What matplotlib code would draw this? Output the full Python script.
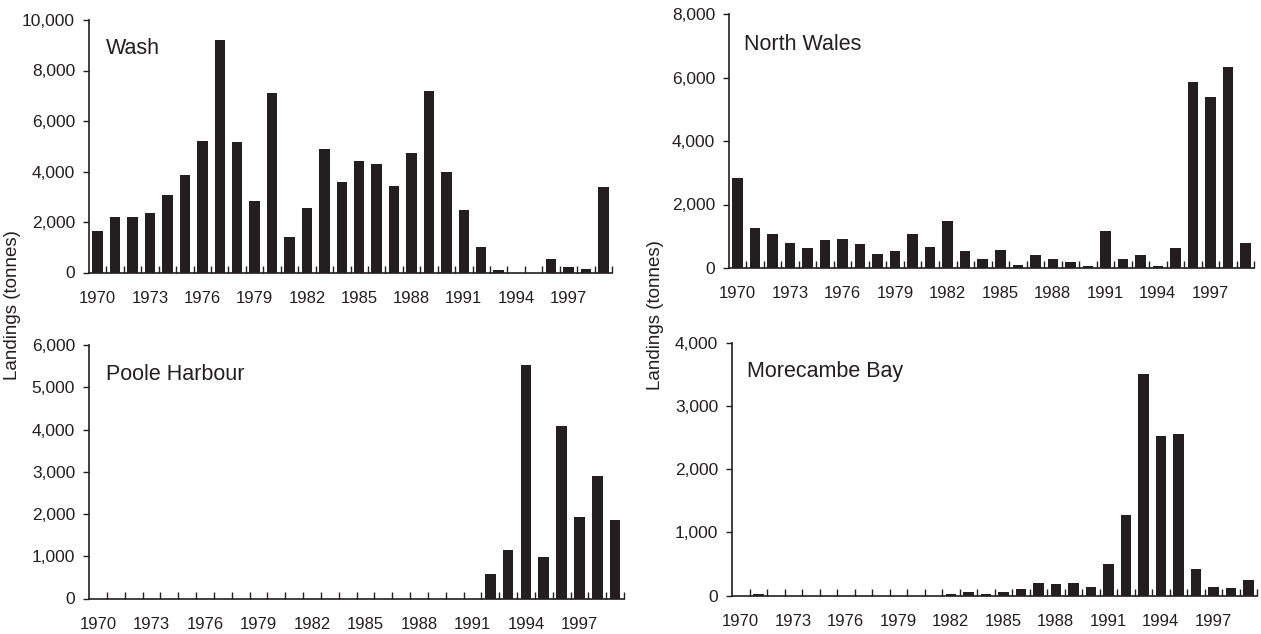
import matplotlib
matplotlib.use("Agg")
import matplotlib.pyplot as plt
from matplotlib.ticker import FuncFormatter, MultipleLocator
import numpy as np

plt.rcParams['font.family'] = ['Liberation Sans', 'DejaVu Sans']

years = list(range(1970, 2000))
tick_years = [1970, 1973, 1976, 1979, 1982, 1985, 1988, 1991, 1994, 1997]

wash = [1650, 2200, 2200, 2350, 3050, 3850, 5200, 9200, 5150, 2850,
        7100, 1400, 2550, 4900, 3600, 4400, 4300, 3430, 4730, 7170,
        3970, 2460, 1000, 80, 0, 0, 525, 200, 150, 3380]
north_wales = [2830, 1260, 1080, 790, 620, 870, 920, 750, 440, 530,
               1080, 660, 1480, 530, 270, 580, 100, 400, 270, 180,
               50, 1180, 270, 400, 50, 620, 5850, 5380, 6330, 790]
poole = [0] * 22 + [590, 1140, 5530, 980, 4090, 1920, 2900, 1855]
morecambe = [0, 30, 0, 0, 0, 0, 0, 0, 0, 0,
             0, 0, 30, 50, 30, 50, 100, 205, 185, 205,
             140, 505, 1270, 3515, 2520, 2565, 420, 140, 120, 250]

W, H = 1261, 634
fig = plt.figure(figsize=(W / 100, H / 100), dpi=100)

def px_axes(left, right, top, bottom):
    return fig.add_axes([left / W, 1 - bottom / H, (right - left) / W, (bottom - top) / H])

panels = [
    ("Wash", wash, (89, 612, 20, 272.5), 10000, 2000, (106, 49)),
    ("North Wales", north_wales, (729, 1254, 14, 268), 8000, 2000, (744, 45)),
    ("Poole Harbour", poole, (89, 624, 345, 598.5), 6000, 1000, (106, 375)),
    ("Morecambe Bay", morecambe, (732, 1257, 343, 595.5), 4000, 1000, (747, 372)),
]

fmt = FuncFormatter(lambda v, p: f"{int(v):,}")
ink = "#231f20"

for title, vals, box, ymax, ystep, tpos in panels:
    ax = px_axes(*box)
    x = np.arange(len(years))
    ax.bar(x, vals, width=0.6, color=ink, edgecolor="none", zorder=2)
    ax.set_xlim(-0.5, len(years) - 0.5)
    ax.set_ylim(0, ymax)
    ax.yaxis.set_major_locator(MultipleLocator(ystep))
    ax.yaxis.set_major_formatter(fmt)
    ax.set_xticks([years.index(y) for y in tick_years])
    ax.set_xticklabels([str(y) for y in tick_years])
    ax.set_xticks(np.arange(len(years)) + 0.5, minor=True)
    ax.tick_params(axis='x', which='major', length=0, pad=13, labelsize=12, colors=ink)
    ax.tick_params(axis='x', which='minor', direction='in', length=5, width=1, color=ink)
    ax.tick_params(axis='y', which='major', direction='out', length=4, width=1, labelsize=12.5,
                   colors=ink, pad=6)
    for s in ('top', 'right'):
        ax.spines[s].set_visible(False)
    for s in ('left', 'bottom'):
        ax.spines[s].set_color(ink)
        ax.spines[s].set_linewidth(1.2)
    fig.text(tpos[0] / W, 1 - tpos[1] / H, title, fontsize=15.5, color=ink,
             va='center', ha='left')

fig.text(13 / W, 1 - 305 / H, "Landings (tonnes)", rotation=90, ha='center', va='center',
         fontsize=13.5, color=ink)
fig.text(656 / W, 1 - 315 / H, "Landings (tonnes)", rotation=90, ha='center', va='center',
         fontsize=13.5, color=ink)

fig.savefig("out.png", dpi=100, facecolor="white")
